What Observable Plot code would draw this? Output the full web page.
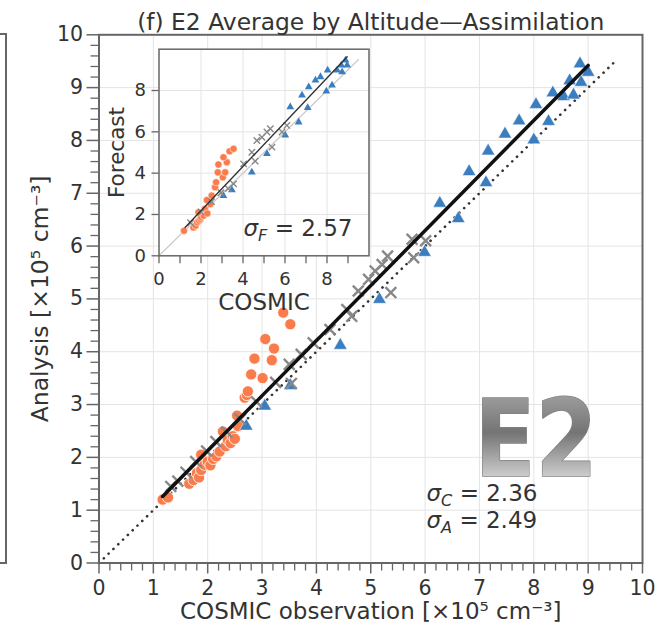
<!DOCTYPE html>
<html><head><meta charset="utf-8">
<script src="https://cdn.jsdelivr.net/npm/d3@7"></script>
<script src="https://cdn.jsdelivr.net/npm/@observablehq/plot@0.6"></script>
<style>
html,body{margin:0;padding:0;background:#fff;}
#wrap{position:relative;width:670px;height:628px;overflow:hidden;font-family:"DejaVu Sans";}
#frag{position:absolute;left:-2px;top:33px;width:7px;height:527px;border:2px solid #666;border-left:none;}
#main{position:absolute;left:0;top:0;}
#inset{position:absolute;left:99px;top:30px;}
svg{overflow:visible;}
</style></head><body>
<div id="wrap"><div id="frag"></div><div id="main"></div><div id="inset"></div></div>
<script>
// ---- texts ----
const titleText = "(f) E2 Average by Altitude—Assimilation";
const xLabel = "COSMIC observation [×10⁵ cm⁻³]";
const yLabel = "Analysis [×10⁵ cm⁻³]";
const insetXLabel = "COSMIC";
const insetYLabel = "Forecast";
const stationLabel = "E2";
const sigmaC = "2.36", sigmaA = "2.49", sigmaF = "2.57";

// ---- main panel data: COSMIC observation vs Analysis ----
const orangeObs = [1.17,1.27,1.66,1.74,1.80,1.84,1.88,1.88,1.94,2.00,2.05,2.10,2.16,2.22,2.28,2.33,2.37,2.42,2.46,2.50,2.56,2.54,2.68,2.72,2.74,2.80,2.86,3.01,3.06,3.18,3.22,3.39,3.52];
const orangeAna = [1.20,1.24,1.50,1.57,1.70,1.62,1.76,2.05,1.86,1.92,1.85,1.97,2.02,2.11,2.49,2.21,2.33,2.27,2.40,2.35,2.59,2.79,3.13,3.18,3.25,3.57,3.87,3.50,4.24,3.84,4.06,4.74,4.52];
const grayObs = [1.32,1.45,1.60,1.78,1.98,2.15,2.35,2.60,2.90,3.25,3.50,3.54,3.72,3.94,4.25,4.56,4.65,4.77,4.96,5.08,5.21,5.31,5.37,5.76,5.79,6.01];
const grayAna = [1.45,1.55,1.72,1.92,2.12,2.30,2.48,2.72,3.05,3.42,3.76,3.40,3.95,4.17,4.42,4.80,4.67,5.15,5.37,5.53,5.65,5.81,5.12,6.13,5.78,6.10];
const blueObs = [2.71,3.05,3.52,4.44,5.16,5.99,6.27,6.61,6.81,7.12,7.16,7.47,7.73,8.00,8.04,8.27,8.35,8.55,8.66,8.73,8.85,8.87,9.00];
const blueAna = [2.59,2.97,3.36,4.12,4.99,5.88,6.81,6.52,7.41,7.20,7.80,8.12,8.37,8.01,8.68,8.36,8.90,8.83,9.13,8.86,9.45,9.10,9.29];
const fitAnaX = [1.17, 9.00];
const fitAnaY = [1.26, 9.42];
const oneToOne = [0, 9.5];

// ---- inset data: COSMIC vs Forecast ----
const orangeObsF = [1.19,1.64,1.74,1.82,1.90,1.97,2.00,2.12,1.88,2.19,2.30,2.44,2.28,2.51,2.67,2.72,3.04,2.80,3.15,3.23,2.83,3.07,3.36,3.55];
const orangeFc  = [1.21,1.37,1.46,1.62,1.70,1.78,1.88,1.94,2.10,2.27,2.05,2.50,2.70,2.91,3.32,3.56,3.80,4.04,4.04,4.53,4.42,4.77,5.06,5.18];
const grayObsF = [1.50,2.00,2.50,2.95,3.30,3.55,4.03,4.58,4.42,4.66,4.90,5.14,5.30,5.38,5.86,6.09];
const grayFc   = [1.60,2.12,2.62,3.05,3.25,3.48,4.45,4.58,5.01,5.58,5.74,5.99,6.15,5.26,5.99,6.31];
const blueObsF = [3.07,3.47,4.42,5.14,6.01,6.65,6.25,7.08,6.81,7.13,7.45,7.69,7.97,8.03,8.24,8.48,8.72,8.68,8.96,8.88];
const blueFc   = [2.91,3.19,4.04,4.94,5.83,6.47,7.20,7.17,7.77,8.17,8.50,8.66,7.97,8.98,8.25,8.98,8.90,9.22,9.22,9.47];
const fitFcX = [1.24, 8.96];
const fitFcY = [1.37, 9.63];
const insetDiag = [0, 9.5];

// ---- ticks ----
const mainTicks = [0,1,2,3,4,5,6,7,8,9,10];
const gridTicks = [1,2,3,4,5,6,7,8,9];
const minorTicks = d3.range(0, 50).map(i => i / 5).filter(v => Math.abs(v - Math.round(v)) > 1e-6);
const insetXTicks = [0,1,2,3,4,5,6,7,8,9];
const insetYTicks = [0,2,4,6,8];
const insetGrid = [2,4,6,8];

const pts = (xs, ys) => xs.map((x, i) => ({x, y: ys[i]}));
const txt = d => d;
const intFmt = d => String(d);

const ORANGE = "#fa7b4b", BLUE = "#3b7ec0", GRAY = "#888888", AX = "#666666", TXT = "#333333";

const main = Plot.plot({
  width: 670, height: 628,
  marginLeft: 98.5, marginRight: 28, marginTop: 34.3, marginBottom: 65.5,
  x: {domain: [0, 10], label: null},
  y: {domain: [0, 10], label: null},
  style: {fontFamily: "DejaVu Sans", color: TXT, background: "transparent", overflow: "visible"},
  marks: [
    Plot.gridX(gridTicks, {stroke: "#e4e4e4", strokeOpacity: 1}),
    Plot.gridY(gridTicks, {stroke: "#e4e4e4", strokeOpacity: 1}),
    Plot.text([stationLabel], {text: txt, frameAnchor: "bottom-right", textAnchor: "end", lineAnchor: "middle",
      dx: -45, dy: -121.7, fontSize: 107, fontWeight: "bold", fill: "#999", stroke: "#808080", strokeWidth: 1.5}),
    Plot.line(pts(oneToOne, oneToOne), {x: "x", y: "y", stroke: "#333", strokeWidth: 2.6, strokeDasharray: "0.1 6.6", strokeLinecap: "round"}),
    Plot.dot(pts(orangeObs, orangeAna), {x: "x", y: "y", r: 5.6, fill: ORANGE, stroke: "white", strokeWidth: 0.8}),
    Plot.dot(pts(blueObs, blueAna), {x: "x", y: "y", symbol: "triangle", r: 5, fill: BLUE, stroke: "white", strokeWidth: 0.5}),
    Plot.dot(pts(grayObs, grayAna), {x: "x", y: "y", symbol: "times", r: 5, stroke: GRAY, strokeWidth: 2.4}),
    Plot.line(pts(fitAnaX, fitAnaY), {x: "x", y: "y", stroke: "#111", strokeWidth: 3.5}),
    Plot.text([`σC = ${sigmaC}`], {text: txt, frameAnchor: "bottom-left", textAnchor: "start", lineAnchor: "middle", dx: 327.5, dy: -69.5, fontSize: 23, fill: TXT}),
    Plot.text([`σA = ${sigmaA}`], {text: txt, frameAnchor: "bottom-left", textAnchor: "start", lineAnchor: "middle", dx: 327.5, dy: -42.5, fontSize: 23, fill: TXT}),
    Plot.frame({stroke: AX, strokeWidth: 2}),
    Plot.axisX(minorTicks, {tickSize: 8, tickFormat: () => "", stroke: AX, strokeWidth: 1.3, label: null}),
    Plot.axisX(mainTicks, {tickSize: 11, tickPadding: 6, fontSize: 20.5, tickFormat: intFmt, stroke: AX, strokeWidth: 1.5, label: null}),
    Plot.axisY(minorTicks, {tickSize: 8, tickFormat: () => "", stroke: AX, strokeWidth: 1.3, label: null}),
    Plot.axisY(mainTicks, {tickSize: 12, tickPadding: 4, fontSize: 20.5, tickFormat: intFmt, stroke: AX, strokeWidth: 1.5, label: null}),
    Plot.text([xLabel], {text: txt, frameAnchor: "bottom", textAnchor: "middle", lineAnchor: "middle", dy: 49, fontSize: 23, fill: TXT}),
    Plot.text([yLabel], {text: txt, frameAnchor: "left", textAnchor: "middle", lineAnchor: "middle", rotate: -90, dx: -58.5, dy: 0, fontSize: 23.5, fill: TXT}),
    Plot.text([titleText], {text: txt, frameAnchor: "top", textAnchor: "middle", lineAnchor: "middle", dy: -12.8, fontSize: 23.4, fill: TXT})
  ]
});

const inset = Plot.plot({
  width: 301, height: 290,
  marginLeft: 59.5, marginRight: 31.5, marginTop: 18.7, marginBottom: 64.7,
  x: {domain: [0, 10], label: null},
  y: {domain: [0, 10], label: null},
  style: {fontFamily: "DejaVu Sans", color: TXT, background: "transparent", overflow: "visible"},
  marks: [
    Plot.frame({fill: "white", stroke: null}),
    Plot.gridX(insetGrid, {stroke: "#e4e4e4", strokeOpacity: 1}),
    Plot.gridY(insetGrid, {stroke: "#e4e4e4", strokeOpacity: 1}),
    Plot.line(pts(insetDiag, insetDiag), {x: "x", y: "y", stroke: "#c9c9c9", strokeWidth: 1.2}),
    Plot.dot(pts(orangeObsF, orangeFc), {x: "x", y: "y", r: 3.6, fill: ORANGE, stroke: "white", strokeWidth: 0.5}),
    Plot.dot(pts(blueObsF, blueFc), {x: "x", y: "y", symbol: "triangle", r: 2.9, fill: BLUE}),
    Plot.dot(pts(grayObsF, grayFc), {x: "x", y: "y", symbol: "times", r: 3, stroke: GRAY, strokeWidth: 1.4}),
    Plot.line(pts(fitFcX, fitFcY), {x: "x", y: "y", stroke: "#333", strokeWidth: 1.4}),
    Plot.text([`σF = ${sigmaF}`], {text: txt, frameAnchor: "bottom-left", textAnchor: "start", lineAnchor: "middle", dx: 84.5, dy: -27.3, fontSize: 23, fill: TXT}),
    Plot.frame({stroke: AX, strokeWidth: 1.5}),
    Plot.axisX(insetXTicks, {tickSize: 8, tickPadding: 8, fontSize: 18, tickFormat: d => (d % 2 === 0 ? String(d) : ""), stroke: AX, strokeWidth: 1.3, label: null}),
    Plot.axisY(insetYTicks, {tickSize: 7, tickPadding: 6, fontSize: 18, tickFormat: intFmt, stroke: AX, strokeWidth: 1.3, label: null}),
    Plot.text([insetXLabel], {text: txt, frameAnchor: "bottom", textAnchor: "middle", lineAnchor: "middle", dy: 46.7, fontSize: 23, fill: TXT}),
    Plot.text([insetYLabel], {text: txt, frameAnchor: "left", textAnchor: "middle", lineAnchor: "middle", rotate: -90, dx: -41.8, fontSize: 21.5, fill: TXT})
  ]
});

document.getElementById("main").appendChild(main);
document.getElementById("inset").appendChild(inset);

// gradient fill for station label
const ms = d3.select(main);
const defs = ms.insert("defs", ":first-child");
const grad = defs.append("linearGradient").attr("id", "e2grad").attr("x1", 0).attr("y1", 0).attr("x2", 0).attr("y2", 1);
grad.append("stop").attr("offset", "0").attr("stop-color", "#b2b2b2");
grad.append("stop").attr("offset", "0.45").attr("stop-color", "#747474");
grad.append("stop").attr("offset", "1").attr("stop-color", "#fdfdfd");
ms.selectAll("text").filter(function() { return this.textContent === stationLabel; })
  .attr("fill", "url(#e2grad)").attr("textLength", 123).attr("lengthAdjust", "spacingAndGlyphs")
  .attr("stroke-linejoin", "round");

// sigma with italic subscript
function subscripts(svg) {
  d3.select(svg).selectAll("text").filter(function() { return this.textContent.startsWith("σ"); }).each(function() {
    const m = this.textContent.match(/^σ(\S)(.*)$/);
    const s = d3.select(this);
    s.text("");
    s.append("tspan").attr("font-style", "italic").text("σ");
    s.append("tspan").attr("font-style", "italic").attr("font-size", "0.7em").attr("dy", "0.3em").text(m[1]);
    s.append("tspan").attr("dy", "-0.21em").text(m[2]);
  });
}
subscripts(main);
subscripts(inset);
</script>
</body></html>
